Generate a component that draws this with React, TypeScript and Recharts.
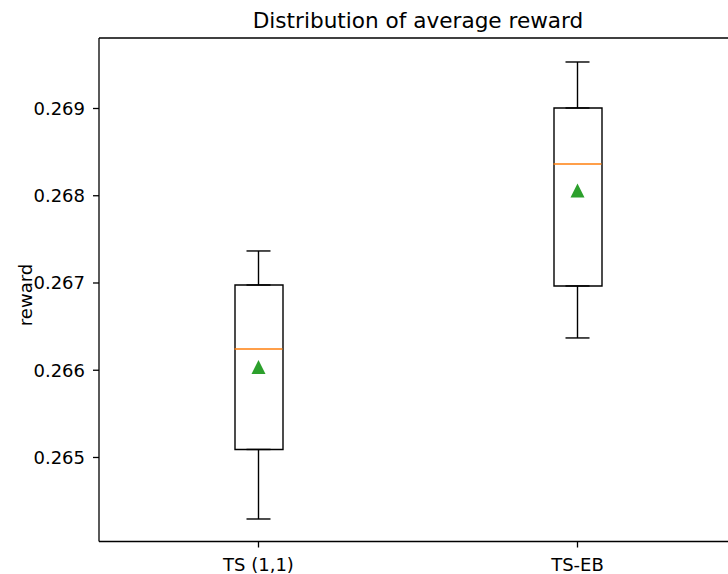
import { ComposedChart, Bar, Scatter, ErrorBar, XAxis, YAxis, ReferenceLine } from 'recharts'

const categories = ['TS (1,1)', 'TS-EB']
const lows = [0.264295, 0.26637]
const q1s = [0.265092, 0.266966]
const medians = [0.266244, 0.268364]
const q3s = [0.266977, 0.269006]
const highs = [0.267367, 0.269533]
const means = [0.266037, 0.26806]
const yTicks = [0.265, 0.266, 0.267, 0.268, 0.269]
const yDomain = [0.264037, 0.269808]

const data = categories.map((name, i) => ({
  name,
  q1: q1s[i],
  q3: q3s[i],
  median: medians[i],
  mean: means[i],
  box: [q1s[i], q3s[i]],
  lowWhisker: [q1s[i] - lows[i], 0],
  highWhisker: [0, highs[i] - q3s[i]],
}))

const black = '#000'
const orange = '#ff7f0e' // mediana
const green = '#2ca02c' // média
const font = 18

const MedianLine = (props: any) => (
  <line x1={props.cx - 24} x2={props.cx + 24} y1={props.cy} y2={props.cy} stroke={orange} strokeWidth={1.4} />
)

const MeanMarker = (props: any) => (
  <polygon
    points={`${props.cx},${props.cy - 7} ${props.cx - 7},${props.cy + 7} ${props.cx + 7},${props.cy + 7}`}
    fill={green}
  />
)

export default function App() {
  return (
    <div
      style={{
        position: 'absolute',
        left: 0,
        top: 0,
        width: 728,
        height: 574,
        overflow: 'hidden',
        background: '#fff',
        fontFamily: 'DejaVu Sans',
      }}
    >
      <div
        style={{
          position: 'absolute',
          left: 99,
          width: 638,
          top: 8.5,
          textAlign: 'center',
          fontSize: 21.6,
          lineHeight: '24px',
          color: black,
        }}
      >
        Distribution of average reward
      </div>
      <ComposedChart
        width={740}
        height={574}
        data={data}
        margin={{ top: 38, right: 3, bottom: 0, left: 0 }}
      >
        <XAxis
          dataKey="name"
          height={32.5}
          tickSize={6}
          tickMargin={10.7}
          tick={{ fill: black, fontSize: font }}
          tickLine={{ stroke: black, strokeWidth: 1.3 }}
          axisLine={{ stroke: black, strokeWidth: 1.3 }}
        />
        <YAxis
          type="number"
          width={99}
          domain={yDomain}
          ticks={yTicks}
          allowDataOverflow
          tickFormatter={(v: number) => v.toFixed(3)}
          tickSize={6}
          tickMargin={8}
          tick={{ fill: black, fontSize: font }}
          tickLine={{ stroke: black, strokeWidth: 1.3 }}
          axisLine={{ stroke: black, strokeWidth: 1.3 }}
          label={{
            content: () => (
              <text x={31.5} y={295} transform="rotate(-90, 31.5, 295)" textAnchor="middle" fontSize={font} fill={black}>
                reward
              </text>
            ),
          }}
        />
        <ReferenceLine y={yDomain[1]} stroke={black} strokeWidth={1.3} ifOverflow="extendDomain" />
        <Scatter dataKey="q1" shape={() => <g />} isAnimationActive={false}>
          <ErrorBar dataKey="lowWhisker" direction="y" width={12} stroke={black} strokeWidth={1.4} isAnimationActive={false} />
        </Scatter>
        <Scatter dataKey="q3" shape={() => <g />} isAnimationActive={false}>
          <ErrorBar dataKey="highWhisker" direction="y" width={12} stroke={black} strokeWidth={1.4} isAnimationActive={false} />
        </Scatter>
        <Bar dataKey="box" barSize={48} fill="#fff" stroke={black} strokeWidth={1.4} isAnimationActive={false} />
        <Scatter dataKey="median" shape={MedianLine} isAnimationActive={false} />
        <Scatter dataKey="mean" shape={MeanMarker} isAnimationActive={false} />
      </ComposedChart>
    </div>
  )
}
